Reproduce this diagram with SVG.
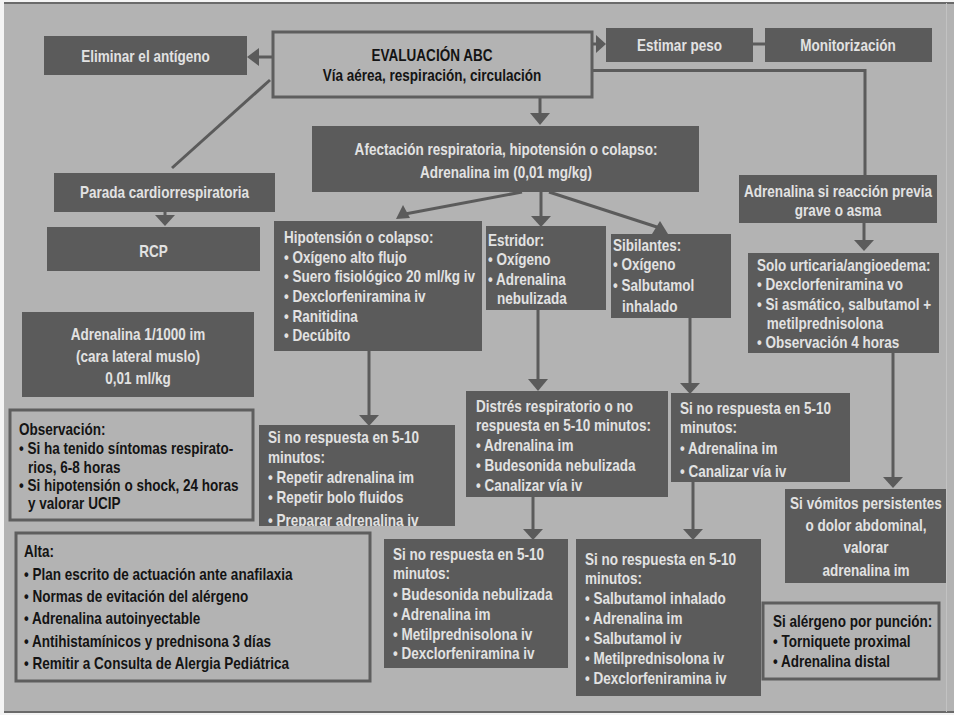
<svg xmlns="http://www.w3.org/2000/svg" width="954" height="715" viewBox="0 0 954 715">
<style>
.dbox{fill:#5b5b5b}
.obox{fill:none;stroke:#5e5e5e;stroke-width:3}
.ln{stroke:#5b5b5b;stroke-width:3;fill:none}
.ah{fill:#5b5b5b}
.t{font-family:"Liberation Sans",Arial,sans-serif;font-size:16.5px;font-weight:700}
.w{fill:#e2e2e2}
.k{fill:#141414}
.m{text-anchor:middle}
</style>
<defs>
<clipPath id="clip1"><rect x="259" y="425" width="196" height="101"/></clipPath>
</defs>
<rect x="0" y="0" width="954" height="715" fill="#f4f4f4"/>
<rect x="4" y="3" width="950" height="710" fill="#b3b3b3"/>
<line x1="4" y1="3" x2="954" y2="3" stroke="#6a6a6a" stroke-width="2"/>
<line x1="4" y1="712" x2="954" y2="712" stroke="#6a6a6a" stroke-width="2"/>
<line x1="946.5" y1="3" x2="946.5" y2="712" stroke="#c2c2c2" stroke-width="1"/>

<g id="connectors">
<line class="ln" x1="273" y1="57" x2="257" y2="57"/>
<polygon class="ah" points="247,57 259,48 259,66"/>
<line class="ln" x1="592" y1="44" x2="598" y2="44"/>
<polygon class="ah" points="606,44 596,35 596,53"/>
<line class="ln" x1="753" y1="44" x2="765" y2="44"/>
<polyline class="ln" points="592,70.5 865,70.5 865,175"/>
<line class="ln" x1="540" y1="97" x2="540" y2="114"/>
<polygon class="ah" points="530,113 550,113 540,125"/>
<line class="ln" x1="270" y1="80" x2="172" y2="168"/>
<line class="ln" x1="165" y1="212" x2="165" y2="216"/>
<polygon class="ah" points="155,215 175,215 165,226"/>
<line class="ln" x1="522" y1="192" x2="405" y2="214"/>
<polygon class="ah" points="403,205 396,219 410,218"/>
<line class="ln" x1="541" y1="192" x2="541" y2="217"/>
<polygon class="ah" points="531,216 551,216 541,227"/>
<line class="ln" x1="549" y1="192" x2="660" y2="228"/>
<polygon class="ah" points="660,221 652,234 668,234"/>
<line class="ln" x1="864" y1="223" x2="864" y2="241"/>
<polygon class="ah" points="854,240 874,240 864,251"/>
<line class="ln" x1="369" y1="351" x2="369" y2="416"/>
<polygon class="ah" points="359,415 379,415 369,426"/>
<line class="ln" x1="538" y1="310" x2="538" y2="380"/>
<polygon class="ah" points="528,379 548,379 538,391"/>
<line class="ln" x1="690" y1="318" x2="690" y2="384"/>
<polygon class="ah" points="680,383 700,383 690,394"/>
<line class="ln" x1="893" y1="353" x2="893" y2="478"/>
<polygon class="ah" points="883,477 903,477 893,488"/>
<line class="ln" x1="533" y1="497" x2="533" y2="530"/>
<polygon class="ah" points="523,529 543,529 533,540"/>
<line class="ln" x1="693" y1="482" x2="693" y2="530"/>
<polygon class="ah" points="683,529 703,529 693,540"/>
</g>

<g id="eliminar">
<rect class="dbox" x="44" y="36" width="203" height="39"/>
<text class="t w m" transform="translate(145.5 0) scale(0.82 1)" x="0" y="62">Eliminar el antígeno</text>
</g>

<g id="evaluacion">
<rect class="obox" x="273" y="32" width="319" height="65"/>
<text class="t k m" transform="translate(432 0) scale(0.82 1)"><tspan x="0" y="61">EVALUACIÓN ABC</tspan><tspan x="0" y="81">Vía aérea, respiración, circulación</tspan></text>
</g>

<g id="estimar">
<rect class="dbox" x="606" y="28" width="147" height="34"/>
<text class="t w m" transform="translate(679.5 0) scale(0.82 1)" x="0" y="51">Estimar peso</text>
</g>

<g id="monitorizacion">
<rect class="dbox" x="765" y="28" width="167" height="34"/>
<text class="t w m" transform="translate(848 0) scale(0.82 1)" x="0" y="51">Monitorización</text>
</g>

<g id="afectacion">
<rect class="dbox" x="312" y="126" width="387" height="66"/>
<text class="t w m" transform="translate(506 0) scale(0.82 1)"><tspan x="0" y="155">Afectación respiratoria, hipotensión o colapso:</tspan><tspan x="0" y="178">Adrenalina im (0,01 mg/kg)</tspan></text>
</g>

<g id="parada">
<rect class="dbox" x="54" y="173" width="221" height="39"/>
<text class="t w m" transform="translate(164.5 0) scale(0.82 1)" x="0" y="198">Parada cardiorrespiratoria</text>
</g>

<g id="adrenalina-previa">
<rect class="dbox" x="739" y="175" width="198" height="48"/>
<text class="t w m" transform="translate(838 0) scale(0.82 1)"><tspan x="0" y="197">Adrenalina si reacción previa</tspan><tspan x="0" y="216">grave o asma</tspan></text>
</g>

<g id="rcp">
<rect class="dbox" x="47" y="227" width="213" height="44"/>
<text class="t w m" transform="translate(153.5 0) scale(0.82 1)" x="0" y="257">RCP</text>
</g>

<g id="adrenalina-dosis">
<rect class="dbox" x="22" y="312" width="232" height="85"/>
<text class="t w m" transform="translate(138 0) scale(0.82 1)"><tspan x="0" y="340">Adrenalina 1/1000 im</tspan><tspan x="0" y="362">(cara lateral muslo)</tspan><tspan x="0" y="384">0,01 ml/kg</tspan></text>
</g>

<g id="hipotension">
<rect class="dbox" x="274" y="221" width="208" height="130"/>
<text class="t w" transform="translate(284 0) scale(0.82 1)"><tspan x="0" y="243">Hipotensión o colapso:</tspan><tspan x="0" y="263">• Oxígeno alto flujo</tspan><tspan x="0" y="282">• Suero fisiológico 20 ml/kg iv</tspan><tspan x="0" y="302">• Dexclorfeniramina iv</tspan><tspan x="0" y="322">• Ranitidina</tspan><tspan x="0" y="341">• Decúbito</tspan></text>
</g>

<g id="estridor">
<rect class="dbox" x="486" y="226" width="120" height="84"/>
<text class="t w" transform="translate(488 0) scale(0.82 1)"><tspan x="0" y="246">Estridor:</tspan><tspan x="0" y="265">• Oxígeno</tspan><tspan x="0" y="285">• Adrenalina</tspan><tspan x="11" y="304">nebulizada</tspan></text>
</g>

<g id="sibilantes">
<rect class="dbox" x="611" y="234" width="120" height="84"/>
<text class="t w" transform="translate(613 0) scale(0.82 1)"><tspan x="0" y="251">Sibilantes:</tspan><tspan x="0" y="270">• Oxígeno</tspan><tspan x="0" y="291">• Salbutamol</tspan><tspan x="11" y="312">inhalado</tspan></text>
</g>

<g id="urticaria">
<rect class="dbox" x="748" y="253" width="191" height="100"/>
<text class="t w" transform="translate(757 0) scale(0.82 1)"><tspan x="0" y="271">Solo urticaria/angioedema:</tspan><tspan x="0" y="290">• Dexclorfeniramina vo</tspan><tspan x="0" y="310">• Si asmático, salbutamol +</tspan><tspan x="12" y="329">metilprednisolona</tspan><tspan x="0" y="348">• Observación 4 horas</tspan></text>
</g>

<g id="observacion">
<rect class="obox" x="10" y="410" width="243" height="110"/>
<text class="t k" transform="translate(19 0) scale(0.82 1)"><tspan x="0" y="435">Observación:</tspan><tspan x="0" y="454">• Si ha tenido síntomas respirato-</tspan><tspan x="11" y="473">rios, 6-8 horas</tspan><tspan x="0" y="491">• Si hipotensión o shock, 24 horas</tspan><tspan x="11" y="509">y valorar UCIP</tspan></text>
</g>

<g id="no-respuesta-1">
<rect class="dbox" x="259" y="425" width="196" height="101"/>
<g clip-path="url(#clip1)">
<text class="t w" transform="translate(268 0) scale(0.82 1)"><tspan x="0" y="443">Si no respuesta en 5-10</tspan><tspan x="0" y="463">minutos:</tspan><tspan x="0" y="483">• Repetir adrenalina im</tspan><tspan x="0" y="503">• Repetir bolo fluidos</tspan><tspan x="0" y="526">• Preparar adrenalina iv</tspan></text>
</g>
</g>

<g id="alta">
<rect class="obox" x="16" y="533" width="354" height="148"/>
<text class="t k" transform="translate(24 0) scale(0.82 1)"><tspan x="0" y="557">Alta:</tspan><tspan x="0" y="580">• Plan escrito de actuación ante anafilaxia</tspan><tspan x="0" y="602">• Normas de evitación del alérgeno</tspan><tspan x="0" y="624">• Adrenalina autoinyectable</tspan><tspan x="0" y="647">• Antihistamínicos y prednisona 3 días</tspan><tspan x="0" y="669">• Remitir a Consulta de Alergia Pediátrica</tspan></text>
</g>

<g id="distres">
<rect class="dbox" x="466" y="391" width="202" height="106"/>
<text class="t w" transform="translate(476 0) scale(0.82 1)"><tspan x="0" y="412">Distrés respiratorio o no</tspan><tspan x="0" y="431">respuesta en 5-10 minutos:</tspan><tspan x="0" y="451">• Adrenalina im</tspan><tspan x="0" y="471">• Budesonida nebulizada</tspan><tspan x="0" y="491">• Canalizar vía iv</tspan></text>
</g>

<g id="no-respuesta-2">
<rect class="dbox" x="671" y="393" width="179" height="89"/>
<text class="t w" transform="translate(680 0) scale(0.82 1)"><tspan x="0" y="414">Si no respuesta en 5-10</tspan><tspan x="0" y="433">minutos:</tspan><tspan x="0" y="454">• Adrenalina im</tspan><tspan x="0" y="477">• Canalizar vía iv</tspan></text>
</g>

<g id="vomitos">
<rect class="dbox" x="785" y="489" width="161" height="94"/>
<text class="t w m" transform="translate(866 0) scale(0.82 1)"><tspan x="0" y="509">Si vómitos persistentes</tspan><tspan x="0" y="531">o dolor abdominal,</tspan><tspan x="0" y="553">valorar</tspan><tspan x="0" y="576">adrenalina im</tspan></text>
</g>

<g id="no-respuesta-3">
<rect class="dbox" x="384" y="539" width="184" height="129"/>
<text class="t w" transform="translate(393 0) scale(0.82 1)"><tspan x="0" y="560">Si no respuesta en 5-10</tspan><tspan x="0" y="579">minutos:</tspan><tspan x="0" y="600">• Budesonida nebulizada</tspan><tspan x="0" y="620">• Adrenalina im</tspan><tspan x="0" y="640">• Metilprednisolona iv</tspan><tspan x="0" y="659">• Dexclorfeniramina iv</tspan></text>
</g>

<g id="no-respuesta-4">
<rect class="dbox" x="576" y="539" width="185" height="157"/>
<text class="t w" transform="translate(585 0) scale(0.82 1)"><tspan x="0" y="565">Si no respuesta en 5-10</tspan><tspan x="0" y="584">minutos:</tspan><tspan x="0" y="604">• Salbutamol inhalado</tspan><tspan x="0" y="624">• Adrenalina im</tspan><tspan x="0" y="644">• Salbutamol iv</tspan><tspan x="0" y="664">• Metilprednisolona iv</tspan><tspan x="0" y="684">• Dexclorfeniramina iv</tspan></text>
</g>

<g id="alergeno">
<rect class="obox" x="763" y="603" width="176" height="76"/>
<text class="t k" transform="translate(773 0) scale(0.82 1)"><tspan x="0" y="627">Si alérgeno por punción:</tspan><tspan x="0" y="647">• Torniquete proximal</tspan><tspan x="0" y="667">• Adrenalina distal</tspan></text>
</g>
</svg>
